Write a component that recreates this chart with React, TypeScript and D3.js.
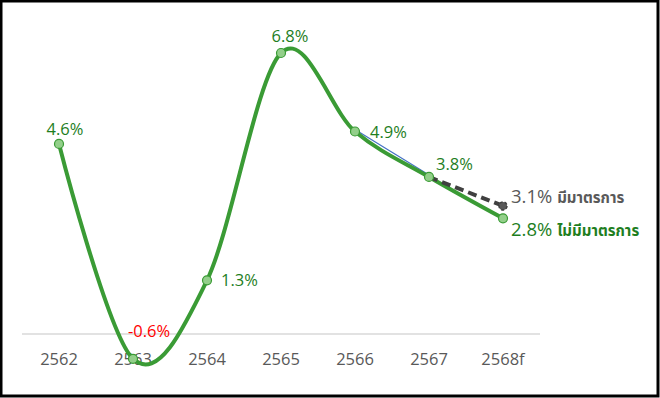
import { useEffect, useRef } from 'react';
import * as d3 from 'd3';

const years = ['2562', '2563', '2564', '2565', '2566', '2567', '2568f'];
const noMeasure = [4.6, -0.6, 1.3, 6.8, 4.9, 3.8, 2.8];
const withMeasureYears = ['2567', '2568f'];
const withMeasure = [3.8, 3.1];
const blueYears = ['2566', '2567'];
const blueValues = [4.9, 3.8];

const green = '#3a9b35';
const labelGreen = '#1e7e1e';
const font = '"Segoe UI", "Open Sans", "Noto Sans", sans-serif';

function App() {
  const ref = useRef<SVGSVGElement>(null);

  useEffect(() => {
    const svg = d3.select(ref.current);
    svg.selectAll('*').remove();

    const x = d3.scalePoint<string>().domain(years).range([59, 503]);
    const y = d3.scaleLinear().domain([0, 6.8]).range([334, 53]);

    // frame
    svg.append('rect')
      .attr('x', 1).attr('y', 1).attr('width', 657).attr('height', 395)
      .attr('fill', 'white').attr('stroke', 'black').attr('stroke-width', 3);

    // zero line
    svg.append('line')
      .attr('x1', 22).attr('x2', 540)
      .attr('y1', y(0)).attr('y2', y(0))
      .attr('stroke', '#d9d9d9').attr('stroke-width', 1.5);

    // category labels
    svg.append('g').selectAll('text')
      .data(years).join('text')
      .attr('x', d => x(d)!)
      .attr('y', 365)
      .attr('text-anchor', 'middle')
      .attr('font-family', font)
      .attr('font-size', 16.5)
      .attr('fill', '#595959')
      .text(d => d);

    const smooth = d3.line<number>()
      .x((_, i) => x(years[i])!)
      .y(d => y(d))
      .curve(d3.curveCatmullRom.alpha(0));

    // thin blue series underneath
    svg.append('path')
      .attr('d', d3.line<number>().x((_, i) => x(blueYears[i])!).y(d => y(d))(blueValues)!)
      .attr('transform', 'translate(0,-2)')
      .attr('fill', 'none').attr('stroke', '#4472c4').attr('stroke-width', 1.2);

    svg.append('path')
      .datum(noMeasure)
      .attr('d', smooth)
      .attr('fill', 'none').attr('stroke', green).attr('stroke-width', 4)
      .attr('stroke-linecap', 'round');

    // dashed with-measure series
    svg.append('path')
      .attr('d', d3.line<number>().x((_, i) => x(withMeasureYears[i])!).y(d => y(d))(withMeasure)!)
      .attr('fill', 'none').attr('stroke', '#404040').attr('stroke-width', 4)
      .attr('stroke-dasharray', '9 5');
    svg.append('circle')
      .attr('cx', x('2568f')!).attr('cy', y(3.1)).attr('r', 4)
      .attr('fill', '#595959').attr('stroke', '#404040').attr('stroke-width', 1.5)
      .attr('stroke-dasharray', '3 2');

    svg.append('g').selectAll('circle')
      .data(noMeasure).join('circle')
      .attr('cx', (_, i) => x(years[i])!)
      .attr('cy', d => y(d))
      .attr('r', 4.5)
      .attr('fill', '#93cf8a')
      .attr('stroke', green).attr('stroke-width', 1.2);

    // data labels
    const labelPos = [
      { dx: 6, dy: -9, anchor: 'middle' },
      { dx: 16, dy: -22, anchor: 'middle' },
      { dx: 14, dy: 6, anchor: 'start' },
      { dx: 9, dy: -11, anchor: 'middle' },
      { dx: 15, dy: 6, anchor: 'start' },
      { dx: 7, dy: -7, anchor: 'start' },
    ];
    svg.append('g').selectAll('text')
      .data(noMeasure.slice(0, 6)).join('text')
      .attr('x', (_, i) => x(years[i])! + labelPos[i].dx)
      .attr('y', (d, i) => y(d) + labelPos[i].dy)
      .attr('text-anchor', (_, i) => labelPos[i].anchor)
      .attr('font-family', font)
      .attr('font-size', 16.5)
      .attr('fill', d => d < 0 ? '#ff0000' : labelGreen)
      .text(d => `${d.toFixed(1)}%`);

    const endLabel = (val: number, word: string, color: string, yy: number) => {
      const t = svg.append('text')
        .attr('x', 511).attr('y', yy)
        .attr('font-family', font)
        .attr('fill', color);
      t.append('tspan').attr('font-size', 18.5).text(`${val.toFixed(1)}% `);
      t.append('tspan').attr('font-size', 15).attr('font-weight', 'bold')
        .attr('font-family', '"Noto Sans Thai", "Tahoma", sans-serif').text(word);
    };
    endLabel(withMeasure[1], 'มีมาตรการ', '#595959', 203);
    endLabel(noMeasure[6], 'ไม่มีมาตรการ', labelGreen, 236);
  }, []);

  return (
    <svg ref={ref} width={660} height={398}
      style={{ position: 'absolute', left: 0, top: 0, display: 'block' }} />
  );
}

export default App;
